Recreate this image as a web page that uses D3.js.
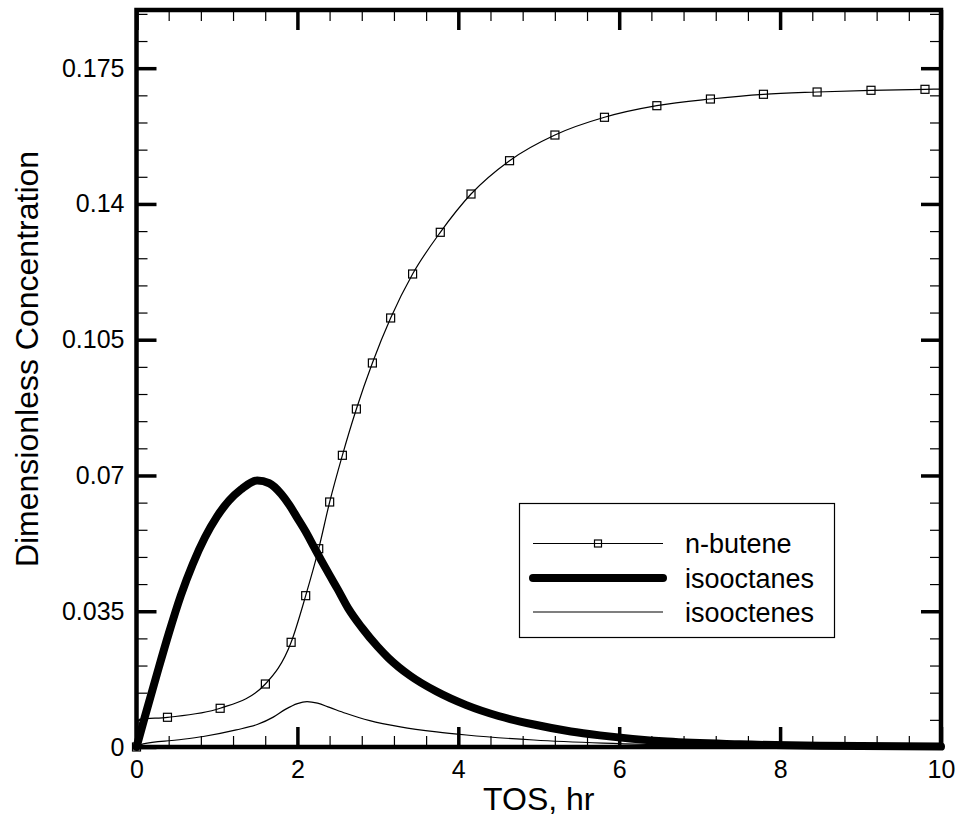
<!DOCTYPE html>
<html>
<head>
<meta charset="utf-8">
<script src="https://cdn.jsdelivr.net/npm/d3@7"></script>
<style>
  html, body { margin: 0; padding: 0; background: #fff; }
  svg { display: block; font-family: "Liberation Sans", Arial, Helvetica, sans-serif; }
</style>
</head>
<body>
<svg id="chart" width="960" height="823"></svg>
<script>
// ---------------- data ----------------
const xTicks = [0, 2, 4, 6, 8, 10];
const yTicks = [0, 0.035, 0.07, 0.105, 0.14, 0.175];
const yTickLabels = ["0", "0.035", "0.07", "0.105", "0.14", "0.175"];
const seriesNames = ["n-butene", "isooctanes", "isooctenes"];

// n-butene (thin line with square symbols)
const butTime = [0, 0.03, 0.385, 1.040, 1.602, 1.922, 2.103, 2.265, 2.401, 2.559, 2.733, 2.932, 3.159, 3.432, 3.776, 4.158, 4.637, 5.201, 5.817, 6.468, 7.134, 7.793, 8.460, 9.130, 9.801, 10];
const butConc = [0, 0.0071, 0.00766, 0.00998, 0.01624, 0.02699, 0.03901, 0.05112, 0.06316, 0.07520, 0.08714, 0.09900, 0.11060, 0.12194, 0.13269, 0.14256, 0.15115, 0.15777, 0.16234, 0.16533, 0.16705, 0.16827, 0.16886, 0.16930, 0.16955, 0.1696];
const butSymbol = [1, 0, 1, 1, 1, 1, 1, 1, 1, 1, 1, 1, 1, 1, 1, 1, 1, 1, 1, 1, 1, 1, 1, 1, 1, 0];

// isooctanes (thick line)
const octaTime = [0, 0.1, 0.25, 0.4, 0.55, 0.7, 0.85, 1.0, 1.15, 1.3, 1.5, 1.65, 1.8, 1.9, 2.0, 2.1, 2.2, 2.3, 2.4, 2.5, 2.63, 2.8, 3.0, 3.13, 3.4, 3.73, 4.1, 4.5, 4.94, 5.4, 5.76, 6.6, 7.5, 8.5, 10];
const octaConc = [0, 0.0075, 0.0185, 0.0292, 0.0390, 0.0472, 0.0540, 0.0594, 0.0635, 0.0664, 0.0687, 0.0680, 0.0652, 0.0624, 0.0590, 0.0556, 0.0518, 0.0480, 0.0443, 0.0407, 0.0358, 0.0308, 0.0258, 0.0230, 0.0184, 0.0143, 0.0108, 0.0080, 0.0058, 0.0040, 0.0030, 0.0014, 0.0007, 0.0003, 0.0001];

// isooctenes (thin line)
const oteTime = [0, 0.083, 0.5, 0.83, 1.24, 1.5, 1.7, 1.85, 2.0, 2.12, 2.25, 2.4, 2.6, 2.9, 3.28, 3.73, 4.1, 4.94, 5.8, 7.0, 8.5, 10];
const oteConc = [0, 0.0008, 0.0018, 0.0027, 0.0044, 0.0058, 0.0077, 0.0097, 0.0112, 0.0117, 0.0113, 0.0102, 0.0087, 0.0068, 0.0052, 0.0039, 0.0031, 0.0018, 0.0010, 0.0004, 0.00015, 0.00005];

// ---------------- layout ----------------
const svg = d3.select("#chart");
const L = 136.5, R = 941, T = 10, B = 747;
const x = d3.scaleLinear().domain([0, 10]).range([L, R]);
const y = d3.scaleLinear().domain([0, 0.19]).range([B, T]);

const xMinor = d3.range(0, 10.001, 0.4).filter(v => !xTicks.some(t => Math.abs(t - v) < 1e-6));
const yMinor = d3.range(0, 0.1901, 0.007).filter(v => !yTicks.some(t => Math.abs(t - v) < 1e-6));

function styleAxis(g, w) {
  g.select(".domain").remove();
  g.selectAll(".tick line").attr("stroke", "#000").attr("stroke-width", w);
  g.selectAll(".tick text").attr("fill", "#000").attr("font-size", 25);
}

// minor ticks
svg.append("g").attr("transform", `translate(0,${B})`)
  .call(d3.axisBottom(x).tickValues(xMinor).tickSize(-11).tickFormat(""))
  .call(g => styleAxis(g, 1.2));
svg.append("g").attr("transform", `translate(0,${T})`)
  .call(d3.axisTop(x).tickValues(xMinor).tickSize(-11).tickFormat(""))
  .call(g => styleAxis(g, 1.2));
svg.append("g").attr("transform", `translate(${L},0)`)
  .call(d3.axisLeft(y).tickValues(yMinor).tickSize(-11).tickFormat(""))
  .call(g => styleAxis(g, 1.2));
svg.append("g").attr("transform", `translate(${R},0)`)
  .call(d3.axisRight(y).tickValues(yMinor).tickSize(-11).tickFormat(""))
  .call(g => styleAxis(g, 1.2));

// major ticks
svg.append("g").attr("transform", `translate(0,${B})`)
  .call(d3.axisBottom(x).tickValues(xTicks).tickSize(-20).tickPadding(13).tickFormat(d3.format("d")))
  .call(g => styleAxis(g, 3.5));
svg.append("g").attr("transform", `translate(0,${T})`)
  .call(d3.axisTop(x).tickValues(xTicks).tickSize(-20).tickFormat(""))
  .call(g => styleAxis(g, 3.5));
svg.append("g").attr("transform", `translate(${L},0)`)
  .call(d3.axisLeft(y).tickValues(yTicks).tickSize(-20).tickPadding(12).tickFormat((d, i) => yTickLabels[i]))
  .call(g => styleAxis(g, 3.5));
svg.append("g").attr("transform", `translate(${R},0)`)
  .call(d3.axisRight(y).tickValues(yTicks).tickSize(-20).tickFormat(""))
  .call(g => styleAxis(g, 3.5));

// lines
const line = d3.line().x(d => x(d[0])).y(d => y(d[1])).curve(d3.curveMonotoneX);

const butData = butTime.map((t, i) => [t, butConc[i]]);
const octaData = octaTime.map((t, i) => [t, octaConc[i]]);
const oteData = oteTime.map((t, i) => [t, oteConc[i]]);

svg.append("path").datum(oteData).attr("d", line)
  .attr("fill", "none").attr("stroke", "#000").attr("stroke-width", 1.2);
svg.append("path").datum(butData).attr("d", line)
  .attr("fill", "none").attr("stroke", "#000").attr("stroke-width", 1.2);
svg.append("path").datum(octaData).attr("d", line)
  .attr("fill", "none").attr("stroke", "#000").attr("stroke-width", 8)
  .attr("stroke-linejoin", "round").attr("stroke-linecap", "round");

const ms = 8;
svg.append("g").selectAll("rect").data(butData.filter((d, i) => butSymbol[i]))
  .join("rect")
  .attr("x", d => x(d[0]) - ms / 2).attr("y", d => y(d[1]) - ms / 2)
  .attr("width", ms).attr("height", ms)
  .attr("fill", "none").attr("stroke", "#000").attr("stroke-width", 1.2);

// frame
svg.append("rect").attr("x", L).attr("y", T).attr("width", R - L).attr("height", B - T)
  .attr("fill", "none").attr("stroke", "#000").attr("stroke-width", 4.5);

// axis titles
svg.append("text").attr("x", (L + R) / 2).attr("y", 810).attr("text-anchor", "middle")
  .attr("font-size", 32).text("TOS, hr");
svg.append("text").attr("transform", "translate(38,359) rotate(-90)").attr("text-anchor", "middle")
  .attr("font-size", 32).text("Dimensionless Concentration");

// legend
const lg = svg.append("g");
lg.append("rect").attr("x", 519.5).attr("y", 503.5).attr("width", 315).attr("height", 134)
  .attr("fill", "#fff").attr("stroke", "#000").attr("stroke-width", 1.2);
const rowsY = [543.5, 578, 612];
const widths = [1.2, 8, 1.2];
seriesNames.forEach((name, i) => {
  lg.append("line").attr("x1", 533).attr("x2", 663).attr("y1", rowsY[i]).attr("y2", rowsY[i])
    .attr("stroke", "#000").attr("stroke-width", widths[i]).attr("stroke-linecap", i === 1 ? "round" : "butt");
  if (i === 0) {
    lg.append("rect").attr("x", 598 - 3.5).attr("y", rowsY[i] - 3.5).attr("width", 7).attr("height", 7)
      .attr("fill", "none").attr("stroke", "#000").attr("stroke-width", 1.2);
  }
  lg.append("text").attr("x", 685).attr("y", rowsY[i] + 9.5).attr("font-size", 27).text(name);
});
</script>
</body>
</html>
